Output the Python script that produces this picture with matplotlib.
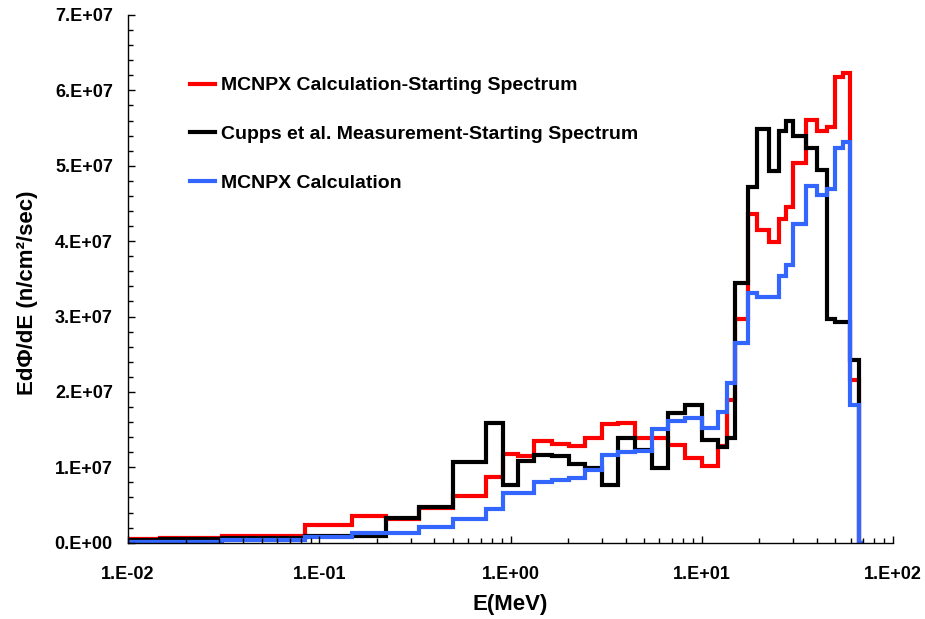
import matplotlib
matplotlib.use("Agg")
import matplotlib.pyplot as plt
from matplotlib.ticker import FixedLocator, NullFormatter, MultipleLocator, LogLocator
import numpy as np

# Bin edges (MeV)
edges = [0.01, 0.0146, 0.0309, 0.0842, 0.149, 0.223, 0.334, 0.498, 0.742, 0.91,
         1.10, 1.33, 1.64, 2.02, 2.45, 3.0, 3.66, 4.48, 5.48, 6.69, 8.18,
         10.0, 12.2, 13.5, 14.9, 17.4, 19.5, 22.6, 25.2, 27.7, 30.0, 35.1,
         40.0, 45.1, 49.8, 54.6, 59.7, 66.7, 70.0]

# Values in units of 1e7 n/cm2/sec
mcnpx_start = [0.045, 0.066, 0.089, 0.23, 0.354, 0.31, 0.456, 0.62, 0.876,
               1.18, 1.15, 1.353, 1.309, 1.287, 1.393, 1.57, 1.584, 1.39, 1.385,
               1.296, 1.12, 1.02, 1.28, 1.89, 2.963, 4.36, 4.147, 3.99, 4.29,
               4.447, 5.04, 5.606, 5.46, 5.517, 6.18, 6.225, 2.158, 0.0]
cupps_start = [0.04, 0.045, 0.058, 0.089, 0.089, 0.332, 0.477, 1.074, 1.583,
               0.77, 1.084, 1.163, 1.154, 1.04, 0.987, 0.765, 1.385, 1.23, 0.987,
               1.716, 1.826, 1.367, 1.273, 1.395, 3.44, 4.72, 5.487, 4.93, 5.46,
               5.597, 5.39, 5.23, 4.95, 2.97, 2.93, 2.93, 2.42, 0.0]
mcnpx_calc = [0.01, 0.01, 0.03, 0.075, 0.125, 0.125, 0.204, 0.31, 0.443,
              0.663, 0.663, 0.80, 0.835, 0.862, 0.968, 1.168, 1.20, 1.22, 1.51,
              1.62, 1.66, 1.517, 1.737, 2.122, 2.653, 3.31, 3.26, 3.26, 3.54,
              3.68, 4.227, 4.73, 4.61, 4.69, 5.24, 5.318, 1.826, 0.0]

labels = ["MCNPX Calculation-Starting Spectrum",
          "Cupps et al. Measurement-Starting Spectrum",
          "MCNPX Calculation"]
colors = ["#FF0000", "#000000", "#3366FF"]

xticks = [0.01, 0.1, 1, 10, 100]
xticklabels = ["1.E-02", "1.E-01", "1.E+00", "1.E+01", "1.E+02"]
yticks = [0, 1e7, 2e7, 3e7, 4e7, 5e7, 6e7, 7e7]
yticklabels = ["0.E+00", "1.E+07", "2.E+07", "3.E+07", "4.E+07", "5.E+07", "6.E+07", "7.E+07"]

plt.rcParams['font.family'] = ['Liberation Sans', 'DejaVu Sans']
plt.rcParams['font.weight'] = 'bold'

fig = plt.figure(figsize=(9.25, 6.19), dpi=100)
ax = fig.add_axes([128.1/925, 76.3/619, (893-128.1)/925, (542.7-15)/619])

e = np.array(edges)
for vals, col, lab in zip([mcnpx_start, cupps_start, mcnpx_calc], colors, labels):
    v = np.array(vals) * 1e7
    ax.stairs(v, e, baseline=None, color=col, linewidth=3.0, label=lab)

ax.set_xscale('log')
ax.set_xlim(0.01, 100)
ax.set_ylim(0, 7e7)

ax.xaxis.set_major_locator(FixedLocator(xticks))
ax.set_xticklabels(xticklabels)
ax.xaxis.set_minor_locator(LogLocator(base=10, subs=np.arange(2, 10)))
ax.xaxis.set_minor_formatter(NullFormatter())
ax.yaxis.set_major_locator(FixedLocator(yticks))
ax.set_yticklabels(yticklabels)
ax.yaxis.set_minor_locator(MultipleLocator(2e6))

ax.tick_params(axis='both', which='major', direction='in', length=5, width=1,
               labelsize=13, color='black')
ax.tick_params(axis='x', which='major', pad=17)
ax.tick_params(axis='y', which='major', pad=11)
ax.tick_params(axis='both', which='minor', direction='in', length=3.5, width=1, color='black')
for lab in ax.get_xticklabels() + ax.get_yticklabels():
    lab.set_fontweight('bold')

for s in ['top', 'right']:
    ax.spines[s].set_visible(False)
for s in ['left', 'bottom']:
    ax.spines[s].set_linewidth(1.0)
    ax.spines[s].set_color('black')

ax.set_xlabel("E(MeV)", fontsize=16, fontweight='bold', labelpad=8)
ax.set_ylabel("EdΦ/dE (n/cm²/sec)", fontsize=16, fontweight='bold')
ax.yaxis.set_label_coords(-0.118, 0.473)

leg = ax.legend(loc='upper left', bbox_to_anchor=(0.081, 0.883), frameon=False,
                fontsize=14, handlelength=1.3, handletextpad=0.3,
                labelspacing=1.6, borderpad=0, borderaxespad=0)
for t in leg.get_texts():
    t.set_fontweight('bold')

fig.savefig("out.png", dpi=100)
